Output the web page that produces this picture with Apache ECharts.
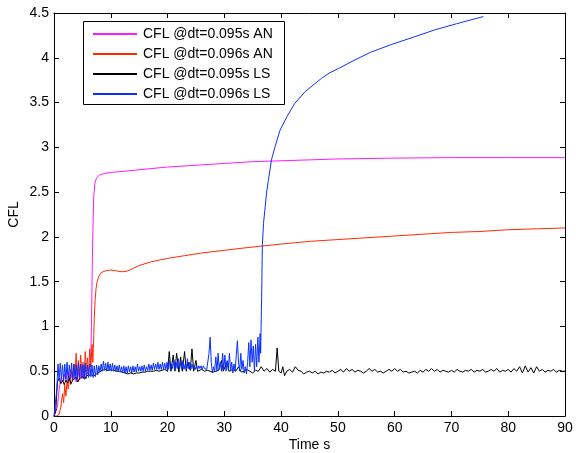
<!DOCTYPE html>
<html>
<head>
<meta charset="utf-8">
<script src="https://cdn.jsdelivr.net/npm/echarts@6/dist/echarts.min.js"></script>
<style>html,body{margin:0;padding:0;background:#fff}#c{width:576px;height:453px}</style>
</head>
<body>
<div id="c"></div>
<script>
// Series names
const seriesNames = ['CFL @dt=0.095s AN', 'CFL @dt=0.096s AN', 'CFL @dt=0.095s LS', 'CFL @dt=0.096s LS'];
// Axis ticks
const xTicks = [0, 10, 20, 30, 40, 50, 60, 70, 80, 90];
const yTicks = [0, 0.5, 1, 1.5, 2, 2.5, 3, 3.5, 4, 4.5];

// [time s, CFL]
const an095 = [[0,0],[0.3,0.02],[0.6,0.1],[0.9,0.3],[1.2,0.42],[1.5,0.38],[1.8,0.47],[2.1,0.4],[2.4,0.5],[2.7,0.43],[3.0,0.52],[3.3,0.41],[3.6,0.5],[3.9,0.38],[4.2,0.52],[4.5,0.4],[4.8,0.5],[5.1,0.42],[5.4,0.55],[5.7,0.45],[6.0,0.5],[6.3,0.55],[6.5,0.7],[6.6,1.0],[6.7,1.5],[6.8,1.9],[6.9,2.2],[7.0,2.45],[7.2,2.6],[7.5,2.66],[8,2.69],[9,2.71],[10,2.72],[12,2.73],[15,2.75],[20,2.78],[25,2.8],[30,2.82],[35,2.84],[40,2.85],[45,2.86],[50,2.87],[60,2.88],[70,2.885],[80,2.885],[90,2.885]];

const an096 = [[0,0],[0.5,0],[0.9,0.02],[1.2,0.1],[1.5,0.25],[1.7,0.15],[1.9,0.35],[2.1,0.22],[2.3,0.4],[2.5,0.3],[2.7,0.45],[2.9,0.35],[3.1,0.5],[3.3,0.4],[3.5,0.58],[3.7,0.45],[3.9,0.7],[4.1,0.42],[4.3,0.62],[4.5,0.45],[4.7,0.68],[4.9,0.48],[5.1,0.6],[5.3,0.42],[5.5,0.72],[5.7,0.5],[5.9,0.65],[6.1,0.45],[6.3,0.75],[6.5,0.55],[6.7,0.8],[6.85,0.6],[7.0,0.9],[7.1,1.1],[7.25,1.3],[7.4,1.42],[7.6,1.5],[7.9,1.56],[8.3,1.6],[9,1.62],[10,1.63],[11,1.62],[12,1.61],[13,1.62],[14,1.65],[15,1.68],[17,1.72],[20,1.76],[23,1.79],[26,1.82],[30,1.85],[34,1.88],[37,1.9],[40,1.92],[45,1.95],[50,1.97],[55,1.99],[60,2.01],[65,2.03],[70,2.05],[75,2.06],[80,2.08],[85,2.09],[90,2.1]];

const ls095 = [[0,0],[0.3,0.05],[0.6,0.38],[0.9,0.42],[1.2,0.36],[1.5,0.4],[1.8,0.35],[2.1,0.4],[2.4,0.37],[2.7,0.42],[3.0,0.36],[3.3,0.4],[3.6,0.38],[3.9,0.43],[4.2,0.38],[4.5,0.42],[4.8,0.4],[5.1,0.44],[5.4,0.41],[5.7,0.45],[6,0.43],[6.5,0.46],[7,0.45],[7.5,0.47],[8,0.49],[8.5,0.51],[9,0.52],[9.5,0.51],[10,0.515],[10.5,0.51],[11,0.5],[11.5,0.5],[12,0.49],[12.5,0.48],[13,0.47],[13.5,0.48],[14,0.47],[14.5,0.48],[15,0.48],[15.5,0.49],[16,0.49],[16.5,0.5],[17,0.5],[17.5,0.5],[18,0.51],[18.5,0.5],[19,0.51],[19.5,0.52],[20,0.5],[20.3,0.72],[20.6,0.5],[21,0.68],[21.3,0.5],[21.6,0.7],[22,0.49],[22.3,0.66],[22.6,0.5],[23,0.72],[23.3,0.5],[23.6,0.6],[24,0.51],[24.3,0.75],[24.6,0.5],[25,0.62],[25.3,0.5],[26,0.52],[26.5,0.5],[27,0.51],[27.5,0.5],[28,0.49],[28.5,0.5],[29,0.51],[29.5,0.62],[29.8,0.5],[30.5,0.6],[30.8,0.5],[31.5,0.52],[32,0.5],[32.5,0.55],[33,0.49],[33.5,0.5],[34,0.52],[34.5,0.5],[35,0.48],[35.5,0.51],[36,0.5],[36.5,0.55],[37,0.5],[37.5,0.53],[38,0.49],[38.5,0.52],[39,0.5],[39.3,0.76],[39.6,0.5],[40,0.48],[40.3,0.55],[40.6,0.45],[41,0.5],[41.5,0.52],[42,0.49],[42.5,0.55],[43,0.51],[43.5,0.5],[44,0.47],[44.5,0.49],[45,0.5],[45.5,0.48],[46,0.5],[46.5,0.47],[47,0.49],[47.5,0.48],[48,0.5],[48.5,0.49],[49,0.51],[49.5,0.48],[50,0.5],[50.5,0.52],[51,0.49],[51.5,0.53],[52,0.5],[52.5,0.52],[53,0.49],[53.5,0.51],[54,0.5],[54.5,0.48],[55,0.5],[55.5,0.53],[56,0.5],[56.5,0.52],[57,0.49],[57.5,0.5],[58,0.48],[58.5,0.5],[59,0.52],[59.5,0.5],[60,0.53],[60.5,0.5],[61,0.52],[61.5,0.49],[62,0.5],[62.5,0.48],[63,0.49],[63.5,0.5],[64,0.48],[64.5,0.51],[65,0.49],[65.5,0.52],[66,0.5],[66.5,0.53],[67,0.5],[67.5,0.52],[68,0.49],[68.5,0.51],[69,0.5],[69.5,0.49],[70,0.51],[70.5,0.49],[71,0.52],[71.5,0.5],[72,0.49],[72.5,0.51],[73,0.5],[73.5,0.52],[74,0.49],[74.5,0.51],[75,0.5],[75.5,0.52],[76,0.49],[76.5,0.5],[77,0.52],[77.5,0.5],[78,0.53],[78.5,0.49],[79,0.51],[79.5,0.5],[80,0.52],[80.5,0.49],[81,0.53],[81.5,0.5],[82,0.55],[82.5,0.48],[83,0.56],[83.5,0.49],[84,0.54],[84.5,0.48],[85,0.55],[85.5,0.5],[86,0.52],[86.5,0.49],[87,0.51],[87.5,0.5],[88,0.52],[88.5,0.49],[89,0.51],[89.5,0.5],[90,0.5]];

const ls096 = [[0,0],[0.3,0.02],[0.5,0.3],[0.7,0.58],[0.9,0.4],[1.1,0.59],[1.3,0.41],[1.5,0.57],[1.7,0.39],[1.9,0.58],[2.1,0.41],[2.3,0.6],[2.5,0.4],[2.7,0.57],[2.9,0.42],[3.1,0.59],[3.3,0.41],[3.5,0.58],[3.7,0.42],[3.9,0.57],[4.1,0.41],[4.3,0.59],[4.5,0.43],[4.7,0.58],[4.9,0.42],[5.1,0.57],[5.3,0.43],[5.5,0.59],[5.7,0.42],[5.9,0.57],[6.1,0.43],[6.3,0.58],[6.5,0.44],[6.7,0.57],[6.9,0.43],[7.1,0.56],[7.3,0.44],[7.5,0.57],[7.7,0.46],[7.9,0.56],[8.1,0.49],[8.3,0.58],[8.5,0.5],[8.7,0.61],[8.9,0.51],[9.1,0.59],[9.3,0.5],[9.5,0.6],[9.7,0.51],[9.9,0.58],[10.1,0.5],[10.3,0.59],[10.5,0.5],[10.7,0.57],[10.9,0.5],[11.1,0.56],[11.3,0.5],[11.5,0.57],[11.7,0.49],[11.9,0.55],[12.1,0.48],[12.3,0.56],[12.5,0.48],[12.7,0.55],[12.9,0.48],[13.1,0.56],[13.3,0.49],[13.5,0.55],[13.7,0.48],[13.9,0.56],[14.1,0.49],[14.3,0.55],[14.5,0.49],[14.7,0.58],[14.9,0.5],[15.1,0.55],[15.3,0.5],[15.5,0.56],[15.7,0.5],[15.9,0.57],[16.1,0.5],[16.3,0.55],[16.5,0.51],[16.7,0.58],[16.9,0.51],[17.1,0.57],[17.3,0.51],[17.5,0.59],[17.7,0.52],[17.9,0.58],[18.1,0.52],[18.3,0.6],[18.5,0.52],[18.7,0.58],[18.9,0.52],[19.1,0.6],[19.3,0.52],[19.5,0.59],[19.7,0.52],[19.9,0.6],[20.1,0.52],[20.3,0.62],[20.5,0.52],[20.7,0.58],[20.9,0.53],[21.1,0.63],[21.3,0.52],[21.5,0.6],[21.7,0.53],[21.9,0.64],[22.1,0.52],[22.3,0.6],[22.5,0.53],[22.7,0.62],[22.9,0.52],[23.1,0.58],[23.3,0.52],[23.5,0.64],[23.7,0.53],[23.9,0.6],[24.1,0.52],[24.3,0.58],[24.5,0.53],[24.7,0.56],[24.9,0.52],[25.1,0.56],[25.3,0.52],[25.5,0.56],[25.7,0.53],[25.9,0.56],[26.1,0.52],[26.3,0.56],[26.5,0.53],[26.7,0.55],[26.9,0.52],[27.1,0.5],[27.3,0.7],[27.5,0.88],[27.7,0.6],[27.9,0.48],[28.1,0.55],[28.3,0.5],[28.5,0.66],[28.7,0.5],[28.9,0.7],[29.1,0.52],[29.3,0.6],[29.5,0.5],[29.7,0.7],[29.9,0.52],[30.1,0.68],[30.3,0.5],[30.5,0.62],[30.7,0.52],[30.9,0.7],[31.1,0.5],[31.3,0.6],[31.5,0.48],[31.7,0.58],[31.9,0.5],[32.1,0.68],[32.3,0.84],[32.5,0.6],[32.7,0.5],[32.9,0.7],[33.1,0.52],[33.3,0.62],[33.5,0.48],[33.7,0.55],[33.9,0.47],[34.1,0.6],[34.3,0.82],[34.5,0.55],[34.7,0.85],[34.9,0.6],[35.1,0.78],[35.3,0.5],[35.5,0.8],[35.7,0.55],[35.9,0.88],[36.1,0.6],[36.3,0.92],[36.4,0.7],[36.46,0.94],[36.57,1.33],[36.7,1.91],[36.9,2.15],[37.2,2.34],[37.45,2.5],[37.75,2.63],[38.3,2.86],[38.9,3.0],[39.8,3.19],[41.0,3.34],[42.4,3.49],[44.2,3.62],[47.1,3.77],[48.5,3.83],[50.1,3.88],[52.5,3.96],[55.7,4.06],[59.5,4.15],[63.3,4.23],[67,4.31],[70.9,4.38],[75.6,4.46]];

const colors = ['#ff1aff', '#ff2a00', '#000000', '#0a30ff'];
const seriesData = [an095, an096, ls095, ls096];

const FONT = 'Liberation Sans';
const chart = echarts.init(document.getElementById('c'), null, {renderer: 'canvas'});

const axisCommon = {
  axisLine: {show: true, onZero: false, lineStyle: {color: '#000', width: 1}},
  axisTick: {show: true, inside: true, length: 5, lineStyle: {color: '#000'}},
  splitLine: {show: false}
};

chart.setOption({
  animation: false,
  backgroundColor: '#fff',
  grid: {left: 54, right: 11, top: 13, bottom: 37, containLabel: false, outerBoundsMode: 'none'},
  xAxis: [
    Object.assign({
      type: 'value', position: 'bottom', min: xTicks[0], max: xTicks[xTicks.length - 1], interval: 10,
      name: 'Time s', nameLocation: 'middle', nameGap: 22, nameMoveOverlap: false,
      nameTextStyle: {fontFamily: FONT, fontSize: 14, color: '#000'},
      axisLabel: {fontFamily: FONT, fontSize: 14, color: '#000', margin: 5}
    }, axisCommon),
    Object.assign({
      type: 'value', position: 'top', min: xTicks[0], max: xTicks[xTicks.length - 1], interval: 10,
      axisLabel: {show: false}
    }, axisCommon)
  ],
  yAxis: [
    Object.assign({
      type: 'value', position: 'left', min: yTicks[0], max: yTicks[yTicks.length - 1], interval: 0.5,
      name: 'CFL', nameLocation: 'middle', nameGap: 33, nameMoveOverlap: false,
      nameTextStyle: {fontFamily: FONT, fontSize: 14, color: '#000'},
      axisLabel: {fontFamily: FONT, fontSize: 14, color: '#000', margin: 5}
    }, axisCommon),
    Object.assign({
      type: 'value', position: 'right', min: yTicks[0], max: yTicks[yTicks.length - 1], interval: 0.5,
      axisLabel: {show: false}
    }, axisCommon)
  ],
  legend: {
    orient: 'vertical', left: 92, top: 27, padding: 0,
    itemWidth: 44, itemHeight: 14, itemGap: 6,
    itemStyle: {opacity: 0},
    textStyle: {fontFamily: FONT, fontSize: 14, color: '#000', padding: [0, 0, 0, 1]},
    data: seriesNames
  },
  graphic: [{
    type: 'rect', left: 83, top: 21, z: 0,
    shape: {width: 201, height: 83},
    style: {fill: '#fff', stroke: '#000', lineWidth: 1}
  }],
  series: seriesData.map((d, i) => ({
    name: seriesNames[i], type: 'line', data: d, symbol: 'none', showSymbol: false,
    xAxisIndex: 0, yAxisIndex: 0,
    lineStyle: {color: colors[i], width: 1}, itemStyle: {color: colors[i]},
    silent: true, z: 2 + i
  }))
});
</script>
</body>
</html>
